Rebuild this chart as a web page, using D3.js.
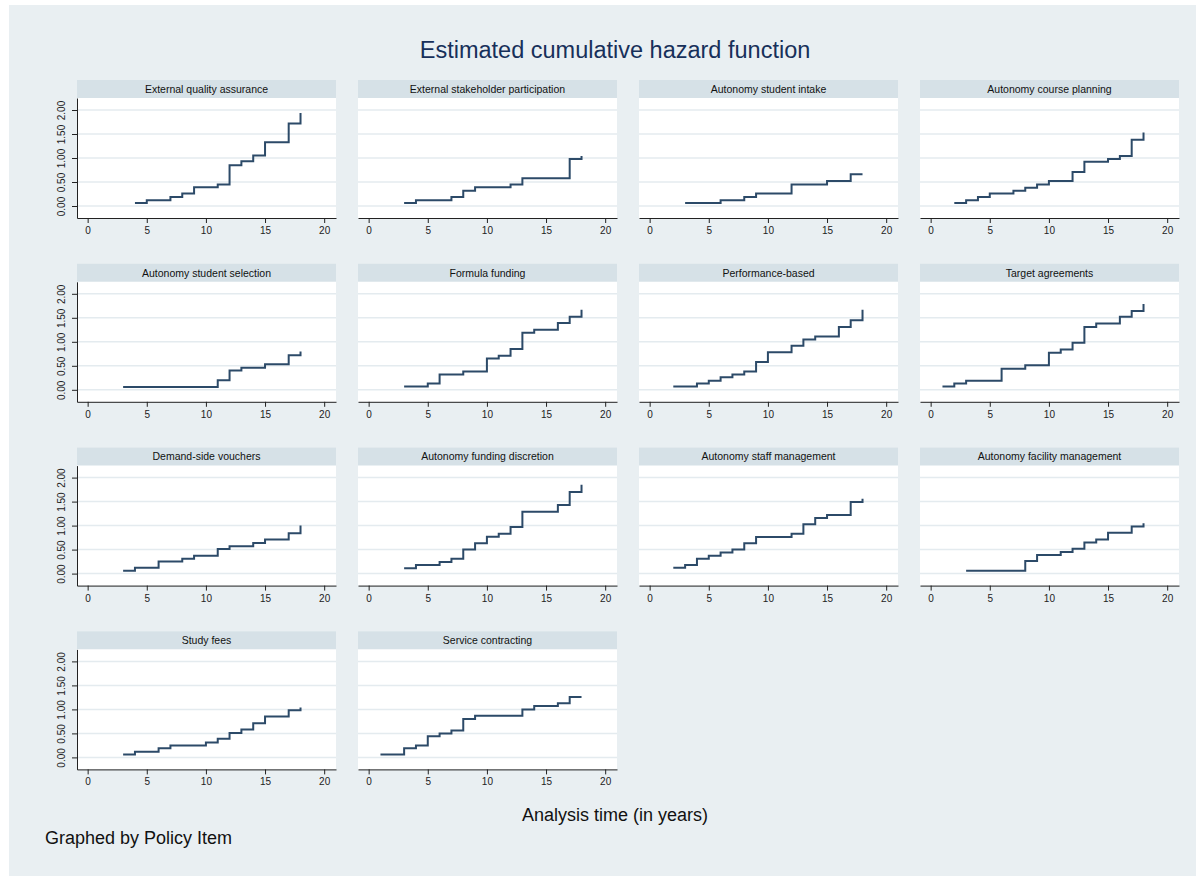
<!DOCTYPE html>
<html>
<head>
<meta charset="utf-8">
<script src="https://cdn.jsdelivr.net/npm/d3@7"></script>
<style>
  body { margin: 0; background: #ffffff; }
  svg text { font-family: "Liberation Sans", Arial, sans-serif; }
</style>
</head>
<body>
<svg id="chart"></svg>
<script>
// panel titles, in drawing order
var panelTitles = [
  "External quality assurance", "External stakeholder participation", "Autonomy student intake", "Autonomy course planning",
  "Autonomy student selection", "Formula funding", "Performance-based", "Target agreements",
  "Demand-side vouchers", "Autonomy funding discretion", "Autonomy staff management", "Autonomy facility management",
  "Study fees", "Service contracting"
];

// [analysis time, cumulative hazard] at each step
var extQuality = [[4,0.06],[5,0.12],[7,0.19],[8,0.26],[9,0.39],[11,0.45],[12,0.85],[13,0.93],[14,1.05],[15,1.33],[17,1.72],[18,1.94]];
var extStakeholder = [[3,0.06],[4,0.12],[7,0.19],[8,0.32],[9,0.39],[12,0.45],[13,0.58],[17,0.98],[18,1.04]];
var studentIntake = [[3,0.06],[6,0.12],[8,0.19],[9,0.26],[12,0.45],[15,0.52],[17,0.66],[18,0.66]];
var coursePlanning = [[2,0.06],[3,0.12],[4,0.19],[5,0.26],[7,0.32],[8,0.38],[9,0.45],[10,0.52],[12,0.71],[13,0.92],[15,0.98],[16,1.04],[17,1.38],[18,1.53]];
var studentSelection = [[3,0.06],[11,0.20],[12,0.40],[13,0.46],[15,0.53],[17,0.72],[18,0.80]];
var formulaFunding = [[3,0.07],[5,0.13],[6,0.32],[8,0.38],[10,0.65],[11,0.71],[12,0.85],[13,1.19],[14,1.25],[16,1.39],[17,1.52],[18,1.67]];
var performanceBased = [[2,0.07],[4,0.13],[5,0.19],[6,0.26],[7,0.32],[8,0.38],[9,0.58],[10,0.78],[12,0.92],[13,1.05],[14,1.11],[16,1.31],[17,1.45],[18,1.67]];
var targetAgreements = [[1,0.07],[2,0.13],[3,0.19],[6,0.44],[8,0.51],[10,0.77],[11,0.84],[12,0.98],[13,1.31],[14,1.38],[16,1.52],[17,1.64],[18,1.79]];
var vouchers = [[3,0.06],[4,0.12],[6,0.25],[8,0.31],[9,0.37],[11,0.51],[12,0.57],[14,0.64],[15,0.71],[17,0.84],[18,1.00]];
var fundingDiscretion = [[3,0.11],[4,0.18],[6,0.24],[7,0.31],[8,0.50],[9,0.63],[10,0.77],[11,0.83],[12,0.97],[13,1.29],[16,1.43],[17,1.70],[18,1.85]];
var staffManagement = [[2,0.12],[3,0.18],[4,0.31],[5,0.37],[6,0.44],[7,0.50],[8,0.63],[9,0.76],[12,0.83],[13,1.03],[14,1.16],[15,1.22],[17,1.49],[18,1.56]];
var facilityManagement = [[3,0.06],[8,0.26],[9,0.39],[11,0.45],[12,0.52],[13,0.65],[14,0.71],[15,0.85],[17,0.98],[18,1.05]];
var studyFees = [[3,0.06],[4,0.12],[6,0.19],[7,0.25],[10,0.31],[11,0.39],[12,0.51],[13,0.58],[14,0.71],[15,0.85],[17,0.98],[18,1.04]];
var serviceContracting = [[1,0.06],[3,0.19],[4,0.25],[5,0.44],[6,0.50],[7,0.56],[8,0.80],[9,0.87],[13,1.00],[14,1.07],[16,1.13],[17,1.26],[18,1.26]];

var allSeries = [extQuality, extStakeholder, studentIntake, coursePlanning,
  studentSelection, formulaFunding, performanceBased, targetAgreements,
  vouchers, fundingDiscretion, staffManagement, facilityManagement,
  studyFees, serviceContracting];

var xTicks = [0, 5, 10, 15, 20];
var yTicks = [0, 0.5, 1, 1.5, 2];

var svgWidth = 1203, svgHeight = 880;
var svg = d3.select('#chart')
  .attr('width', svgWidth)
  .attr('height', svgHeight);

// outer stata-like background
svg.append('rect')
  .attr('x', 9).attr('y', 5)
  .attr('width', 1187).attr('height', 871)
  .attr('fill', '#e9eff2');

svg.append('text')
  .attr('x', 615).attr('y', 58)
  .attr('text-anchor', 'middle')
  .attr('font-size', 23.5)
  .attr('fill', '#17305a')
  .text('Estimated cumulative hazard function');

var plotW = 259, plotH = 120, stripH = 18;
var colStep = 281, rowStep = 183.8;
var left0 = 77, top0 = 98;

var x = d3.scaleLinear().domain([-0.9, 21]).range([0, plotW]);
var y = d3.scaleLinear().domain([-0.25, 2.25]).range([plotH, 0]);

var line = d3.line()
  .x(function(d) { return x(d[0]); })
  .y(function(d) { return y(d[1]); })
  .curve(d3.curveStepAfter);

allSeries.forEach(function(series, i) {
  var col = i % 4, row = Math.floor(i / 4);
  var g = svg.append('g')
    .attr('transform', 'translate(' + (left0 + col * colStep) + ',' + (top0 + row * rowStep) + ')');

  // strip with panel title
  g.append('rect')
    .attr('x', 0).attr('y', -stripH)
    .attr('width', plotW).attr('height', stripH)
    .attr('fill', '#d6e1e7');
  g.append('text')
    .attr('x', plotW / 2).attr('y', -stripH / 2 + 3.8)
    .attr('text-anchor', 'middle')
    .attr('font-size', 10.5)
    .attr('fill', '#111')
    .text(panelTitles[i]);

  g.append('rect')
    .attr('width', plotW).attr('height', plotH)
    .attr('fill', '#ffffff');

  // grid
  g.selectAll('.grid')
    .data(yTicks)
    .enter().append('line')
    .attr('x1', 0).attr('x2', plotW)
    .attr('y1', function(d) { return y(d); })
    .attr('y2', function(d) { return y(d); })
    .attr('stroke', '#e4ebef')
    .attr('stroke-width', 1.5);

  var xAxis = g.append('g')
    .attr('transform', 'translate(0,' + plotH + ')')
    .call(d3.axisBottom(x).tickValues(xTicks).tickSize(5).tickPadding(4).tickSizeOuter(0));
  xAxis.select('.domain').attr('stroke', '#222');
  xAxis.selectAll('.tick line').attr('stroke', '#222');
  xAxis.selectAll('text').attr('font-size', 10).attr('fill', '#222').attr('font-family', '"Liberation Sans", Arial, sans-serif');

  if (col === 0) {
    var yAxis = g.append('g')
      .call(d3.axisLeft(y).tickValues(yTicks).tickFormat(d3.format('.2f')).tickSize(5).tickPadding(3).tickSizeOuter(0));
    yAxis.select('.domain').attr('stroke', '#222');
    yAxis.selectAll('.tick line').attr('stroke', '#222');
    yAxis.selectAll('text')
      .attr('font-size', 10).attr('fill', '#222')
      .attr('font-family', '"Liberation Sans", Arial, sans-serif')
      .attr('text-anchor', 'middle')
      .attr('dy', null)
      .attr('x', null)
      .attr('transform', 'translate(-12,0) rotate(-90)');
  }

  g.append('path')
    .datum(series)
    .attr('d', line)
    .attr('fill', 'none')
    .attr('stroke', '#2c4a68')
    .attr('stroke-width', 2);
});

svg.append('text')
  .attr('x', 615).attr('y', 821)
  .attr('text-anchor', 'middle')
  .attr('font-size', 18)
  .attr('fill', '#111')
  .text('Analysis time (in years)');

svg.append('text')
  .attr('x', 45).attr('y', 844)
  .attr('font-size', 18)
  .attr('fill', '#111')
  .text('Graphed by Policy Item');
</script>
</body>
</html>
